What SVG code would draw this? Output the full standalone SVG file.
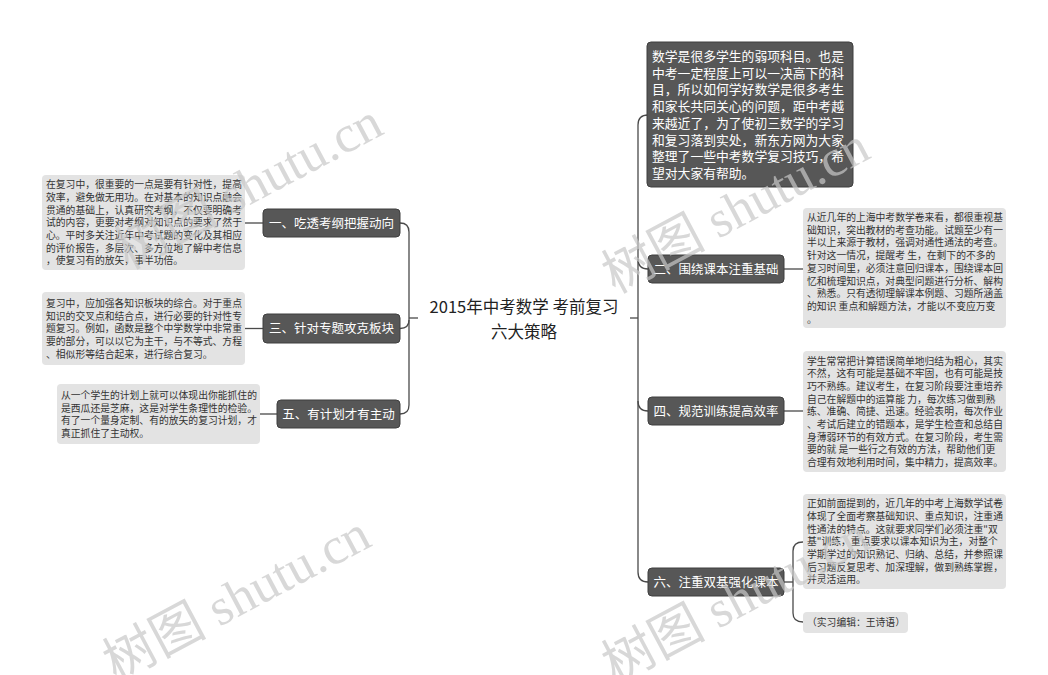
<svg xmlns="http://www.w3.org/2000/svg" width="1048" height="675" viewBox="0 0 1048 675">
<style>
text{font-family:"Noto Sans CJK SC","Noto Sans",sans-serif}
.node rect{fill:#575757;stroke:#3f3f3f;stroke-width:1}
.node text{fill:#fff;font-size:12.5px;text-anchor:middle}
.box rect{fill:#e3e3e3}
.box text{fill:#333;font-size:9.8px}
.intro rect{fill:#575757;stroke:#3f3f3f;stroke-width:1}
.intro text{fill:#fff;font-size:12.8px}
.conn path{fill:none;stroke:#4a4a4a;stroke-width:1.3}
.wm text{font-family:"Liberation Serif","Noto Sans CJK SC",serif;font-size:52px;fill:#c8c8c8;opacity:0.7}
</style>
<rect width="1048" height="675" fill="#fff"/>
<g id="connectors" class="conn">
<path d="M409,318 H418"/>
<path d="M400,223 Q409,223 409,232 V405 Q409,414 400,414"/>
<path d="M400,328.5 Q409,328.5 409,320"/>
<path d="M245,223 H263"/>
<path d="M245,328.5 H263"/>
<path d="M260,414 H277"/>
<path d="M630,318 H638"/>
<path d="M648,115 Q638,115 638,125 V572 Q638,582 648,582"/>
<path d="M648,269 Q638,269 638,259"/>
<path d="M648,411 Q638,411 638,401"/>
<path d="M784,269 H803"/>
<path d="M784,411 H803"/>
<path d="M784,582 H793"/>
<path d="M803,542 Q793,542 793,551 V613 Q793,622 803,622"/>
</g>
<g id="center">
<text x="524" y="313" font-size="16.5" fill="#222" text-anchor="middle">2015年中考数学 考前复习</text>
<text x="524" y="338" font-size="16.5" fill="#222" text-anchor="middle">六大策略</text>
</g>
<g id="n1" class="node"><rect x="263" y="209" width="137" height="28" rx="4"/><text x="331.5" y="227.5">一、吃透考纲把握动向</text></g>
<g id="n3" class="node"><rect x="263" y="314" width="137" height="29" rx="4"/><text x="331.5" y="333">三、针对专题攻克板块</text></g>
<g id="n5" class="node"><rect x="277" y="400" width="123" height="28" rx="4"/><text x="338.5" y="418.5">五、有计划才有主动</text></g>
<g id="n2" class="node"><rect x="648" y="255" width="136" height="28" rx="4"/><text x="716" y="273.5">二、围绕课本注重基础</text></g>
<g id="n4" class="node"><rect x="648" y="397" width="136" height="28" rx="4"/><text x="716" y="415.5">四、规范训练提高效率</text></g>
<g id="n6" class="node"><rect x="648" y="568" width="136" height="28" rx="4"/><text x="716" y="586.5">六、注重双基强化课本</text></g>
<g id="intro" class="intro"><rect x="647" y="42" width="206" height="145" rx="4"/>
<text y="61"><tspan x="652">数学是很多学生的弱项科目。也是</tspan><tspan x="652" dy="16.7">中考一定程度上可以一决高下的科</tspan><tspan x="652" dy="16.7">目，所以如何学好数学是很多考生</tspan><tspan x="652" dy="16.7">和家长共同关心的问题，距中考越</tspan><tspan x="652" dy="16.7">来越近了，为了使初三数学的学习</tspan><tspan x="652" dy="16.7">和复习落到实处，新东方网为大家</tspan><tspan x="652" dy="16.7">整理了一些中考数学复习技巧，希</tspan><tspan x="652" dy="16.7">望对大家有帮助。</tspan></text></g>
<g id="b1" class="box"><rect x="42" y="175" width="203" height="95" rx="4"/>
<text y="188.2"><tspan x="46">在复习中，很重要的一点是要有针对性，提高</tspan><tspan x="46" dy="12.7">效率，避免做无用功。在对基本的知识点融会</tspan><tspan x="46" dy="12.7">贯通的基础上，认真研究考纲，不仅要明确考</tspan><tspan x="46" dy="12.7">试的内容，更要对考纲对知识点的要求了然于</tspan><tspan x="46" dy="12.7">心。平时多关注近年中考试题的变化及其相应</tspan><tspan x="46" dy="12.7">的评价报告，多层次、多方位地了解中考信息</tspan><tspan x="46" dy="12.7">，使复习有的放矢，事半功倍。</tspan></text></g>
<g id="b3" class="box"><rect x="42" y="292" width="203" height="73" rx="4"/>
<text y="306.9"><tspan x="46">复习中，应加强各知识板块的综合。对于重点</tspan><tspan x="46" dy="12.7">知识的交叉点和结合点，进行必要的针对性专</tspan><tspan x="46" dy="12.7">题复习。例如，函数是整个中学数学中非常重</tspan><tspan x="46" dy="12.7">要的部分，可以以它为主干，与不等式、方程</tspan><tspan x="46" dy="12.7">、相似形等结合起来，进行综合复习。</tspan></text></g>
<g id="b5" class="box"><rect x="57" y="384" width="203" height="60" rx="4"/>
<text y="398.8"><tspan x="61">从一个学生的计划上就可以体现出你能抓住的</tspan><tspan x="61" dy="12.7">是西瓜还是芝麻，这是对学生条理性的检验。</tspan><tspan x="61" dy="12.7">有了一个量身定制、有的放矢的复习计划，才</tspan><tspan x="61" dy="12.7">真正抓住了主动权。</tspan></text></g>
<g id="b2" class="box"><rect x="803" y="208" width="203" height="120" rx="4"/>
<text y="221"><tspan x="807">从近几年的上海中考数学卷来看，都很重视基</tspan><tspan x="807" dy="12.7">础知识，突出教材的考查功能。试题至少有一</tspan><tspan x="807" dy="12.7">半以上来源于教材，强调对通性通法的考查。</tspan><tspan x="807" dy="12.7">针对这一情况，提醒考 生，在剩下的不多的</tspan><tspan x="807" dy="12.7">复习时间里，必须注意回归课本，围绕课本回</tspan><tspan x="807" dy="12.7">忆和梳理知识点，对典型问题进行分析、解构</tspan><tspan x="807" dy="12.7">、熟悉。只有透彻理解课本例题、习题所涵盖</tspan><tspan x="807" dy="12.7">的知识 重点和解题方法，才能以不变应万变</tspan><tspan x="807" dy="12.7">。</tspan></text></g>
<g id="b4" class="box"><rect x="803" y="351" width="203" height="121" rx="4"/>
<text y="364.5"><tspan x="807">学生常常把计算错误简单地归结为粗心，其实</tspan><tspan x="807" dy="12.7">不然，这有可能是基础不牢固，也有可能是技</tspan><tspan x="807" dy="12.7">巧不熟练。建议考生，在复习阶段要注重培养</tspan><tspan x="807" dy="12.7">自己在解题中的运算能 力，每次练习做到熟</tspan><tspan x="807" dy="12.7">练、准确、简捷、迅速。经验表明，每次作业</tspan><tspan x="807" dy="12.7">、考试后建立的错题本，是学生检查和总结自</tspan><tspan x="807" dy="12.7">身薄弱环节的有效方式。在复习阶段，考生需</tspan><tspan x="807" dy="12.7">要的就 是一些行之有效的方法，帮助他们更</tspan><tspan x="807" dy="12.7">合理有效地利用时间，集中精力，提高效率。</tspan></text></g>
<g id="b6" class="box"><rect x="803" y="494" width="203" height="95" rx="4"/>
<text y="507.2"><tspan x="807">正如前面提到的，近几年的中考上海数学试卷</tspan><tspan x="807" dy="12.7">体现了全面考察基础知识、重点知识，注重通</tspan><tspan x="807" dy="12.7">性通法的特点。这就要求同学们必须注重"双</tspan><tspan x="807" dy="12.7">基"训练，重点要求以课本知识为主，对整个</tspan><tspan x="807" dy="12.7">学期学过的知识熟记、归纳、总结，并参照课</tspan><tspan x="807" dy="12.7">后习题反复思考、加深理解，做到熟练掌握，</tspan><tspan x="807" dy="12.7">并灵活运用。</tspan></text></g>
<g id="b7" class="box"><rect x="803" y="612" width="105" height="21" rx="4"/>
<text x="807" y="626.3">（实习编辑：王诗语）</text></g>
<g id="watermarks" class="wm">
<text transform="translate(128,270) rotate(-28)">树图 shutu.cn</text>
<text transform="translate(615,294) rotate(-28)">树图 shutu.cn</text>
<text transform="translate(116,682) rotate(-28)">树图 shutu.cn</text>
<text transform="translate(615,684) rotate(-28)">树图 shutu.cn</text>
</g>
</svg>
